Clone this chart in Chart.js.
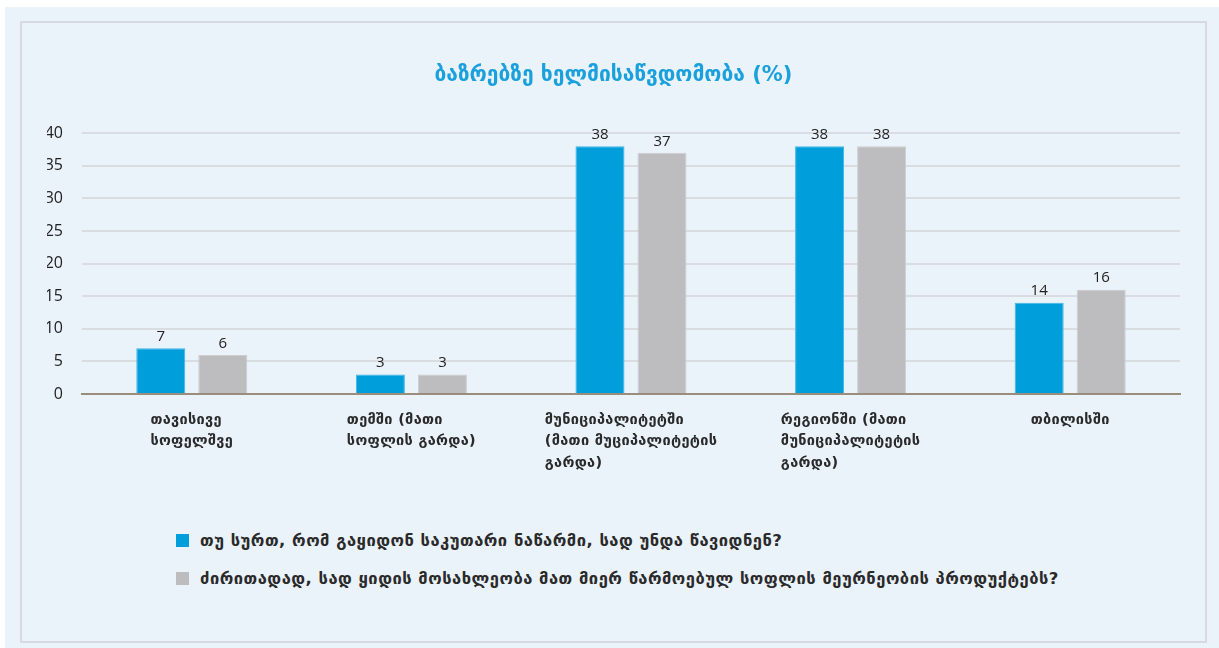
<!DOCTYPE html>
<html>
<head>
<meta charset="utf-8">
<script src="https://cdn.jsdelivr.net/npm/chart.js@4.4.1/dist/chart.umd.min.js"></script>
<style>
body{margin:0;background:#fff;width:1219px;height:648px;overflow:hidden;font-family:'Open Sans','DejaVu Sans',sans-serif}
#fondo{position:absolute;left:5px;top:7px;width:1214px;height:641px;background:#eaf2fa}
#caja{position:absolute;left:20px;top:21px;width:1183px;height:618px;border:2px solid #d5dbe1}
#lienzo{position:absolute;left:0;top:0}
#leyenda{position:absolute;left:154px;top:498px}
.item{display:flex;align-items:center;height:38px;font-size:16px;color:#222;font-family:'DejaVu Sans',sans-serif}
.item .t{font-weight:bold;font-size:16.5px;letter-spacing:0.5px;color:#2a2a2a}
.cuadro{width:13px;height:13px;margin-right:11px}
</style>
</head>
<body>
<div id="fondo"></div>
<div id="caja">
  <canvas id="lienzo" width="1183" height="480" style="width:1183px;height:480px"></canvas>
  <div id="leyenda"></div>
</div>
<script>
// ---------------- DATOS ----------------
const titulo = "ბაზრებზე ხელმისაწვდომობა (%)";
const categorias = [
  ["თავისივე", "სოფელშვე"],
  ["თემში (მათი", "სოფლის გარდა)"],
  ["მუნიციპალიტეტში", "(მათი მუციპალიტეტის", "გარდა)"],
  ["რეგიონში (მათი", "მუნიციპალიტეტის", "გარდა)"],
  ["თბილისში"]
];
const serieNombres = [
  "თუ სურთ, რომ გაყიდონ საკუთარი ნაწარმი, სად უნდა წავიდნენ?",
  "ძირითადად, სად ყიდის მოსახლეობა მათ მიერ წარმოებულ სოფლის მეურნეობის პროდუქტებს?"
];
const valoresAzul = [7, 3, 38, 38, 14];
const valoresGris = [6, 3, 37, 38, 16];
const colores = ["#009fdb", "#bdbdc0"];
const bordes = ["#3fb5e4", "#cdcdd0"];
const ticksY = [0, 5, 10, 15, 20, 25, 30, 35, 40];

const fuente = "'Open Sans','DejaVu Sans',sans-serif";

// etiquetas del eje x: bloque centrado, líneas alineadas a la izquierda
const etiquetasX = {
  id: "etiquetasX",
  afterDraw(chart) {
    const ctx = chart.ctx;
    const x = chart.scales.x;
    ctx.save();
    ctx.font = "bold 14.5px 'DejaVu Sans',sans-serif";
    ctx.letterSpacing = "0.3px";
    ctx.fillStyle = "#2a2a2a";
    ctx.textBaseline = "middle";
    ctx.textAlign = "left";
    categorias.forEach((lineas, i) => {
      const cx = x.getPixelForTick(i);
      const ancho = Math.max(...lineas.map(l => ctx.measureText(l).width));
      lineas.forEach((l, j) => {
        ctx.fillText(l, cx - ancho / 2, x.top + 26 + j * 21.5);
      });
    });
    ctx.restore();
  }
};

// valores encima de las barras
const valores = {
  id: "valores",
  afterDatasetsDraw(chart) {
    const ctx = chart.ctx;
    ctx.save();
    ctx.font = "15px " + fuente;
    ctx.fillStyle = "#222";
    ctx.textAlign = "center";
    ctx.textBaseline = "bottom";
    chart.data.datasets.forEach((ds, k) => {
      chart.getDatasetMeta(k).data.forEach((bar, i) => {
        ctx.fillText(ds.data[i], bar.x, bar.y - 4);
      });
    });
    ctx.restore();
  }
};

new Chart(document.getElementById("lienzo"), {
  type: "bar",
  data: {
    labels: categorias,
    datasets: [
      { label: serieNombres[0], data: valoresAzul, backgroundColor: colores[0], borderColor: bordes[0], borderWidth: 1 },
      { label: serieNombres[1], data: valoresGris, backgroundColor: colores[1], borderColor: bordes[1], borderWidth: 1 }
    ]
  },
  options: {
    responsive: false,
    animation: false,
    categoryPercentage: 0.565,
    barPercentage: 0.79,
    layout: { padding: { left: 25, right: 25, top: 0, bottom: 0 } },
    plugins: {
      legend: { display: false },
      tooltip: { enabled: false },
      title: {
        display: true,
        text: titulo,
        color: "#1aa0dc",
        font: { family: "'DejaVu Sans',sans-serif", size: 21, weight: "bold" },
        padding: { top: 40, bottom: 45 }
      }
    },
    scales: {
      x: {
        grid: { display: false },
        border: { display: true, color: "#9c8c7c", width: 2 },
        ticks: { display: false },
        afterFit(s) { s.height = 109; }
      },
      y: {
        min: 0,
        max: 40,
        afterBuildTicks(s) { s.ticks = ticksY.map(v => ({ value: v })); },
        afterFit(s) { s.width = 35; },
        grid: {
          color: c => c.index === 0 ? "rgba(0,0,0,0)" : "#d9dde1",
          lineWidth: 2,
          drawTicks: false
        },
        border: { display: false },
        ticks: { color: "#222", font: { family: fuente, size: 16 }, padding: 19 }
      }
    }
  },
  plugins: [etiquetasX, valores]
});

// leyenda
const leyenda = document.getElementById("leyenda");
serieNombres.forEach((n, i) => {
  const item = document.createElement("div");
  item.className = "item";
  const c = document.createElement("span");
  c.className = "cuadro";
  c.style.background = colores[i];
  const t = document.createElement("span");
  t.className = "t";
  t.textContent = n;
  item.appendChild(c);
  item.appendChild(t);
  leyenda.appendChild(item);
});
</script>
</body>
</html>
